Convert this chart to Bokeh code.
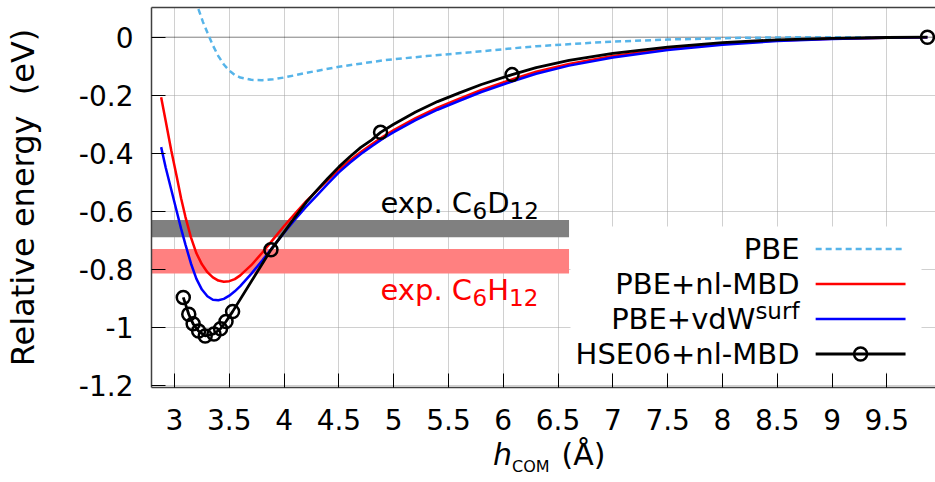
import math
from bokeh.plotting import figure
from bokeh.layouts import column
from bokeh.models import Range1d, FixedTicker, LinearAxis, Label, BoxAnnotation, Span, Div
from bokeh.embed import file_html
from bokeh.resources import INLINE

# ---------------------------------------------------------------- data
# PBE (no dispersion)
pbe_h = [3.19, 3.22, 3.26, 3.30, 3.35, 3.40, 3.45, 3.50, 3.55, 3.60, 3.70, 3.80,
         3.90, 4.0, 4.2, 4.5, 4.9, 5.3, 5.7, 6.3, 6.9, 7.5, 8.2, 8.8, 9.4, 9.87]
pbe_e = [0.13, 0.095, 0.052, 0.016, -0.028, -0.065, -0.094, -0.115, -0.130, -0.139,
         -0.147, -0.148, -0.145, -0.139, -0.123, -0.102, -0.080, -0.065, -0.052,
         -0.031, -0.017, -0.008, -0.002, 0.0, 0.0, 0.0]

# PBE+nl-MBD and PBE+vdW^surf share the same height grid
grid_h = [2.878, 2.92, 2.97, 3.02, 3.06, 3.10, 3.15, 3.20, 3.25, 3.30, 3.35, 3.40,
          3.45, 3.50, 3.55, 3.60, 3.70, 3.80, 3.90, 4.0, 4.1, 4.2, 4.3, 4.4, 4.5,
          4.6, 4.7, 4.8, 4.9, 5.0, 5.2, 5.4, 5.6, 5.8, 6.1, 6.3, 6.6, 7.0, 7.5,
          8.0, 8.5, 9.0, 9.5, 9.87]
mbd_e = [-0.207, -0.29, -0.39, -0.48, -0.555, -0.62, -0.69, -0.745, -0.783, -0.810,
         -0.828, -0.839, -0.843, -0.841, -0.834, -0.821, -0.786, -0.743, -0.697,
         -0.651, -0.608, -0.566, -0.529, -0.492, -0.457, -0.425, -0.396, -0.369,
         -0.343, -0.320, -0.279, -0.243, -0.212, -0.182, -0.143, -0.119, -0.092,
         -0.065, -0.040, -0.023, -0.011, -0.005, -0.0015, 0.0]
vdw_e = [-0.379, -0.45, -0.525, -0.60, -0.660, -0.715, -0.780, -0.833, -0.870,
         -0.893, -0.905, -0.907, -0.902, -0.891, -0.876, -0.858, -0.816, -0.770,
         -0.722, -0.674, -0.628, -0.585, -0.545, -0.505, -0.466, -0.433, -0.403,
         -0.376, -0.350, -0.327, -0.286, -0.250, -0.219, -0.189, -0.150, -0.126,
         -0.098, -0.070, -0.044, -0.026, -0.013, -0.006, -0.002, 0.0]

# HSE06+nl-MBD computed points and its fitted curve
hse_h = [3.08, 3.13, 3.17, 3.22, 3.28, 3.36, 3.42, 3.47, 3.53, 3.88, 4.88, 6.08, 9.87]
hse_e = [-0.897, -0.955, -0.988, -1.013, -1.030, -1.023, -1.005, -0.980, -0.946,
         -0.733, -0.328, -0.129, 0.0]
hse_fit_h = [3.08, 3.13, 3.17, 3.22, 3.28, 3.36, 3.42, 3.47, 3.53, 3.88, 4.0, 4.1,
             4.2, 4.3, 4.4, 4.5, 4.6, 4.7, 4.8, 4.88, 5.0, 5.2, 5.4, 5.6, 5.8,
             6.08, 6.3, 6.6, 7.0, 7.5, 8.0, 8.5, 9.0, 9.5, 9.87]
hse_fit_e = [-0.897, -0.955, -0.988, -1.013, -1.030, -1.023, -1.005, -0.980, -0.946,
             -0.733, -0.672, -0.620, -0.570, -0.527, -0.486, -0.447, -0.412, -0.380,
             -0.354, -0.328, -0.300, -0.258, -0.222, -0.192, -0.163, -0.129, -0.105,
             -0.080, -0.056, -0.034, -0.019, -0.009, -0.004, -0.001, 0.0]

# experimental adsorption energy ranges
exp_bottom = [-0.69, -0.815]
exp_top = [-0.63, -0.73]
exp_right = 6.6
exp_colors = ["#808080", "#ff8080"]

x_ticks = [3, 3.5, 4, 4.5, 5, 5.5, 6, 6.5, 7, 7.5, 8, 8.5, 9, 9.5]
x_labels = ["3", "3.5", "4", "4.5", "5", "5.5", "6", "6.5", "7", "7.5", "8", "8.5", "9", "9.5"]
y_ticks = [-1.2, -1.0, -0.8, -0.6, -0.4, -0.2, 0.0]
y_labels = ["-1.2", "-1", "-0.8", "-0.6", "-0.4", "-0.2", "0"]

# ---------------------------------------------------------------- layout
FONT = "DejaVu Sans"
W, H = 935, 482
H_MAIN = 443                                # main figure
TITLE_TOP = 440                             # x-title block starts here
FL, FT, FW, FH = 150, 7, 785, 380          # frame left/top/width/height in px
X0, X1 = 2.79, 9.944
Y0, Y1 = -1.2076, 0.1024
BASE_SHIFT = 0.345                          # label anchor -> alphabetic baseline (em)

C_PBE, C_MBD, C_VDW, C_HSE = "#56b4e9", "#ff0000", "#0000ff", "#000000"

p = figure(width=W, height=H_MAIN, x_range=Range1d(X0, X1), y_range=Range1d(Y0, Y1),
           output_backend="svg", toolbar_location=None,
           min_border_left=FL, min_border_right=0, min_border_top=FT,
           min_border_bottom=H_MAIN - FT - FH)
p.outline_line_color = None
p.background_fill_color = "white"
p.border_fill_color = "white"

# axes
for ax in (p.xaxis, p.yaxis):
    ax.axis_line_color = "#404040"
    ax.axis_line_width = 1.5
    ax.major_tick_in = 14
    ax.major_tick_out = 0
    ax.major_tick_line_color = "black"
    ax.major_tick_line_width = 1
    ax.minor_tick_line_color = None
    ax.major_label_text_font = FONT
    ax.major_label_text_font_size = "28px"
    ax.major_label_text_color = "black"
p.xaxis.ticker = FixedTicker(ticks=x_ticks)
p.xaxis.major_label_overrides = dict(zip(x_ticks, x_labels))
p.xaxis.major_label_standoff = 21
p.yaxis.ticker = FixedTicker(ticks=y_ticks)
p.yaxis.major_label_overrides = dict(zip(y_ticks, y_labels))
p.yaxis.major_label_standoff = 18
p.yaxis.axis_label = "Relative energy\u00a0 (eV)"
p.yaxis.axis_label_text_font = FONT
p.yaxis.axis_label_text_font_size = "32px"
p.yaxis.axis_label_text_font_style = "normal"
p.yaxis.axis_label_text_color = "black"
p.yaxis.axis_label_standoff = 34

top = LinearAxis(ticker=FixedTicker(ticks=[]), axis_line_color="#404040",
                 axis_line_width=1.5, major_tick_line_color=None,
                 minor_tick_line_color=None, major_label_text_font_size="0px")
p.add_layout(top, "above")

# grid
p.xgrid.ticker = FixedTicker(ticks=x_ticks)
p.ygrid.ticker = FixedTicker(ticks=[t for t in y_ticks if t != 0])
for g in (p.xgrid, p.ygrid):
    g.grid_line_color = "#a0a0a0"
    g.grid_line_dash = "1 1"
    g.grid_line_width = 1
p.add_layout(Span(location=0, dimension="width", line_color="black",
                  line_dash="1 1", line_width=1, level="underlay"))


def sx(px):
    return px - FL


def sy(py):
    return FT + FH - py


def dx(px):
    return X0 + (px - FL) / FW * (X1 - X0)


def dy(py):
    return Y1 - (py - FT) / FH * (Y1 - Y0)


# white panel behind the key
p.add_layout(BoxAnnotation(left=sx(569), right=sx(920), top=sy(226), bottom=sy(372),
                           left_units="screen", right_units="screen",
                           top_units="screen", bottom_units="screen",
                           fill_color="white", fill_alpha=1.0, line_color=None,
                           level="underlay"))

# experimental bands
p.quad(left=[X0 - 0.1] * 2, right=[exp_right] * 2, bottom=exp_bottom, top=exp_top,
       fill_color=exp_colors, line_color=None)

# curves
p.line(pbe_h, pbe_e, line_color=C_PBE, line_width=2.5, line_dash="6 4")
p.line(grid_h, mbd_e, line_color=C_MBD, line_width=2.5)
p.line(grid_h, vdw_e, line_color=C_VDW, line_width=2.5)
p.line(hse_fit_h, hse_fit_e, line_color=C_HSE, line_width=2.8)
p.scatter(hse_h, hse_e, marker="circle", size=13, fill_color=None,
          line_color=C_HSE, line_width=2.5)

# ---------------------------------------------------------------- texts
ADV = {'e': 0.615, 'x': 0.592, 'p': 0.635, '.': 0.318, ' ': 0.318, 'C': 0.698,
       '6': 0.636, '1': 0.636, '2': 0.636, 'D': 0.770, 'H': 0.752, 'P': 0.603,
       'B': 0.686, 'E': 0.632, '+': 0.838, 'v': 0.592, 'd': 0.635, 'W': 0.989,
       's': 0.521, 'u': 0.634, 'r': 0.411, 'f': 0.352}


def width(text, size):
    return sum(ADV.get(c, 0.6) for c in text) * size


def put(px, py, text, size, color="black", style="normal", align="left"):
    """Text whose alphabetic baseline sits at canvas row py."""
    p.add_layout(Label(x=sx(px), y=sy(py - BASE_SHIFT * size),
                       x_units="screen", y_units="screen",
                       text=text, text_font=FONT, text_font_size=f"{size}px",
                       text_font_style=style, text_color=color, text_align=align,
                       text_baseline="middle"))


def rich(px, py, parts, color="black"):
    """parts: (text, size, vertical shift in px, positive = down)"""
    x = px
    for text, size, shift in parts:
        put(x, py + shift, text, size, color)
        x += width(text, size)


MAIN, SUB = 29, 23
rich(379, 212.5, [("exp. C", MAIN, 0), ("6", SUB, 5), ("D", MAIN, 0), ("12", SUB, 5)])
rich(379, 299.5, [("exp. C", MAIN, 0), ("6", SUB, 5), ("H", MAIN, 0), ("12", SUB, 5)],
     color="#ff0000")

# key
KEY_RIGHT, KEY_X0, KEY_X1 = 798, 815, 905
rows = [248.5, 283.5, 318.5, 353.5]
put(KEY_RIGHT, rows[0] + 10, "PBE", MAIN, align="right")
put(KEY_RIGHT, rows[1] + 10, "PBE+nl-MBD", MAIN, align="right")
put(KEY_RIGHT, rows[2] + 10 - 10, "surf", SUB, align="right")
put(KEY_RIGHT - width("surf", SUB), rows[2] + 10, "PBE+vdW", MAIN, align="right")
put(KEY_RIGHT, rows[3] + 10, "HSE06+nl-MBD", MAIN, align="right")
p.line([dx(KEY_X0), dx(KEY_X1)], [dy(rows[0])] * 2, line_color=C_PBE, line_width=2.5,
       line_dash="6 4")
p.line([dx(KEY_X0), dx(KEY_X1)], [dy(rows[1])] * 2, line_color=C_MBD, line_width=2.5)
p.line([dx(KEY_X0), dx(KEY_X1)], [dy(rows[2])] * 2, line_color=C_VDW, line_width=2.5)
p.line([dx(KEY_X0), dx(KEY_X1)], [dy(rows[3])] * 2, line_color=C_HSE, line_width=2.8)
p.scatter([dx((KEY_X0 + KEY_X1) / 2)], [dy(rows[3])], marker="circle", size=13,
          fill_color=None, line_color=C_HSE, line_width=2.5)

# ---------------------------------------------------------------- x title
x_title = Div(
    text=('<span style="font-style:italic;margin-left:488px">h</span>'
          '<span style="font-size:16px;position:relative;top:6.5px;margin-left:0px">COM</span>'
          '<span style="margin-left:12px">(Å)</span>'),
    width=W, height=H - TITLE_TOP,
    styles={"font-family": FONT, "font-size": "30px", "line-height": "30px",
            "color": "black", "white-space": "nowrap",
            "margin-top": f"-{H_MAIN - TITLE_TOP}px"})

open("out.html", "w").write(file_html(column(p, x_title), INLINE))
